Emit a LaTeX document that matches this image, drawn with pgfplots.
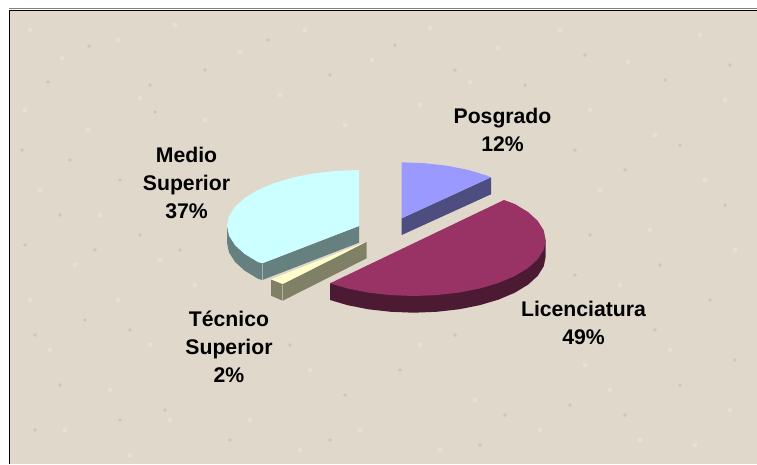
\documentclass[border=0pt]{standalone}
\usepackage{fontspec}
\setmainfont{Liberation Sans}
\usepackage{pgfplots}
\pgfplotsset{compat=1.18}
\definecolor{paper}{HTML}{E1D8CC}
\definecolor{speckd}{HTML}{BFB09C}
\definecolor{speckl}{HTML}{F0EAE2}
\definecolor{cyantop}{HTML}{CCFFFF}
\definecolor{cyanside}{HTML}{668080}
\definecolor{plumtop}{HTML}{993366}
\definecolor{plumside}{HTML}{4D1A33}
\definecolor{periwtop}{HTML}{9999FF}
\definecolor{periwside}{HTML}{4D4D80}
\definecolor{creamtop}{HTML}{FFFFCC}
\definecolor{creamside}{HTML}{808066}
\tikzset{lab/.style={font=\fontsize{21.2}{28}\selectfont\bfseries,align=center,text=black,inner sep=0pt}}
\begin{document}
\begin{tikzpicture}
\begin{axis}[
  width=757pt,height=464pt,scale only axis,
  xmin=0,xmax=757,ymin=0,ymax=464,y dir=reverse,
  hide axis,clip=true,
]
% white margin keeps the page at full size, then paper and frame
\addplot[fill=white,draw=none] coordinates {(0,0)(757,0)(757,464)(0,464)};
\addplot[fill=paper,draw=none] coordinates {(9,10)(757,10)(757,464)(9,464)};
\addplot[only marks,mark=*,mark size=2.2pt,color=speckl,opacity=0.4] coordinates {
(30,30)(62,58)(118,40)(175,25)(240,52)(305,30)(372,60)(430,28)(498,48)(560,30)(628,62)(700,35)
(25,110)(88,130)(140,98)(205,120)(280,95)(345,125)(420,105)(470,82)(590,110)(655,135)(725,100)
(40,190)(100,215)(75,265)(30,300)(118,300)(160,260)(195,285)(600,190)(650,230)(705,180)(735,250)(620,285)
(50,350)(110,390)(150,345)(170,420)(65,430)(250,420)(310,370)(360,430)(420,345)(475,400)(540,430)
(610,390)(670,350)(730,410)(695,445)(640,440)(300,450)(130,455)(440,450)(585,365)};
\addplot[only marks,mark=*,mark size=1.6pt,color=speckd,opacity=0.4] coordinates {
(89,46)(150,85)(155,112)(48,82)(205,70)(268,40)(330,75)(395,45)(455,70)(525,85)(585,55)(665,80)(730,65)
(22,150)(70,160)(120,180)(60,215)(25,245)(95,250)(140,235)(180,250)(575,150)(625,170)(680,145)(725,205)
(590,235)(660,265)(710,300)(575,275)(35,335)(85,320)(130,330)(60,385)(120,420)(165,410)(35,430)(230,440)
(290,345)(345,395)(400,370)(455,335)(505,415)(570,405)(625,415)(680,385)(735,360)(655,330)(330,440)(480,445)};
\addplot[gray,line width=0.8pt] coordinates {(9,8.8)(757,8.8)};
\addplot[black,line width=1.3pt] coordinates {(9.5,464)(9.5,10.2)(757,10.2)};

% Medio Superior, side then top
\addplot[fill=cyanside,draw=none] coordinates {(359,226)(359,242.7)(262.3,280)(257.9,278.7)(244.7,270.7)(235,261.9)(229,252.4)(227,242.7)(227,226)(262.3,263.3)};
\addplot[fill=cyantop,draw=none] coordinates {(359,170)(336.1,170.9)(313.9,173.4)(293,177.5)(274.2,183.1)(257.9,190)(244.7,198)(235,206.8)(229,216.3)(227,226)(229,235.7)(235,245.2)(244.7,254)(257.9,262)(262.3,263.3)(359,226)};
\addplot[color=cyanside!60!white,line width=0.7pt] coordinates {(262.5,264)(262.5,280)};

% Tecnico Superior
\addplot[fill=creamside,draw=none] coordinates {(366.7,241.7)(366.7,258.3)(282.7,300.7)(271,295.7)(271,279.3)(282.7,284)};
\addplot[fill=creamtop,draw=none] coordinates {(366.7,241.7)(271,279.3)(282.7,284)};
\addplot[color=creamside!60!white,line width=0.6pt] coordinates {(282.7,284.5)(282.7,300.5)};

% Licenciatura
\addplot[fill=plumside,draw=none] coordinates {(545.7,240)(545.7,256.7)(543.7,266.4)(537.7,275.9)(528,284.7)(514.8,292.7)(498.5,299.6)(479.7,305.2)(458.9,309.3)(436.6,311.8)(413.7,312.7)(390.8,311.8)(368.5,309.3)(347.7,305.2)(330,300)(330,283.3)};
\addplot[fill=plumtop,draw=none] coordinates {(504,200)(514.8,204)(528,212)(537.7,220.8)(543.7,230.3)(545.7,240)(543.7,249.7)(537.7,259.2)(528,268)(514.8,276)(498.5,282.9)(479.7,288.5)(458.9,292.6)(436.6,295.1)(413.7,296)(390.8,295.1)(368.5,292.6)(347.7,288.5)(330,283.3)};

% Posgrado
\addplot[fill=periwside,draw=none] coordinates {(401.7,218.3)(491,177.3)(491,194.3)(401.7,235)};
\addplot[fill=periwtop,draw=none] coordinates {(401.7,162.3)(424.6,163.2)(446.8,165.7)(467.7,169.8)(486.5,175.4)(491,177.3)(401.7,218.3)};

\node[lab] at (axis cs:502.5,130) {Posgrado\\12\%};
\node[lab] at (axis cs:583.5,323) {Licenciatura\\49\%};
\node[lab] at (axis cs:186.5,183) {Medio\\Superior\\37\%};
\node[lab] at (axis cs:229,347) {Técnico\\Superior\\2\%};
\end{axis}
\end{tikzpicture}
\end{document}
